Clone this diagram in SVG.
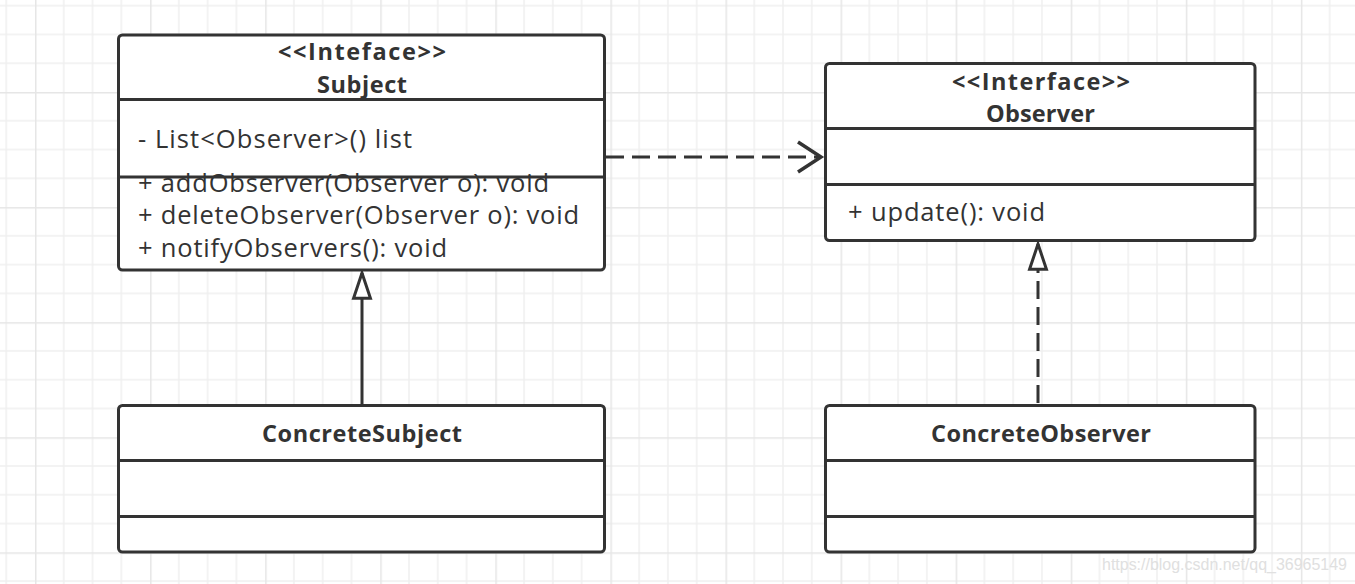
<svg xmlns="http://www.w3.org/2000/svg" width="1355" height="584" viewBox="0 0 1355 584">
<defs>
<pattern id="grid" x="35" y="92" width="115.08" height="115.08" patternUnits="userSpaceOnUse">
<path d="M28.77 0V115.08M57.54 0V115.08M86.31 0V115.08M0 28.77H115.08M0 57.54H115.08M0 86.31H115.08" stroke="#efefef" stroke-width="1.5" fill="none"/>
<path d="M0.75 0V115.08M0 0.75H115.08" stroke="#e6e6e6" stroke-width="1.5" fill="none"/>
</pattern>
<marker id="open" markerUnits="userSpaceOnUse" markerWidth="30" markerHeight="40" refX="24" refY="16" orient="auto" viewBox="0 0 30 32">
<path d="M1 1 L24 16 L1 31" fill="none" stroke="#333" stroke-width="3.5"/>
</marker>
<marker id="tri" markerUnits="userSpaceOnUse" markerWidth="30" markerHeight="30" refX="29" refY="11" orient="auto" viewBox="0 0 32 22">
<path d="M2 2 L29 11 L2 20 Z" fill="#fff" stroke="#333" stroke-width="3.2" stroke-linejoin="miter"/>
</marker>
</defs>
<style>
.box{fill:#fff;stroke:#333;stroke-width:3}
.div{stroke:#333;stroke-width:3;fill:none}
.t{font-family:"Open Sans","Noto Sans","Liberation Sans",sans-serif;fill:#333}
.r{font-size:25.5px}
.b{font-size:23.5px;font-weight:bold;text-anchor:middle}
.ln{stroke:#333;stroke-width:3;fill:none}
.dash{stroke-dasharray:18 8}
.wm{font-family:"Liberation Sans",Arial,sans-serif;font-size:16px;fill:#e0e0e0}
</style>
<rect width="1355" height="584" fill="#fff"/>
<rect width="1355" height="584" fill="url(#grid)"/>

<g id="connectors">
<path class="ln dash" d="M606 157 H821" marker-end="url(#open)"/>
<path class="ln" d="M362 404 V273" marker-end="url(#tri)"/>
<path class="ln dash" d="M1038 403 V244" marker-end="url(#tri)"/>
</g>

<g id="subject">
<rect class="box" x="118.5" y="35" width="486" height="235" rx="4"/>
<path class="div" d="M118.5 99.5 H604.5"/>
<text class="t b" x="362" y="60" textLength="168" lengthAdjust="spacing">&lt;&lt;Inteface&gt;&gt;</text>
<text class="t b" x="362" y="93" textLength="90" lengthAdjust="spacing">Subject</text>
<text class="t r" x="138" y="148" textLength="274" lengthAdjust="spacing">- List&lt;Observer&gt;() list</text>
<text class="t r" x="138" y="192" textLength="411" lengthAdjust="spacing">+ addObserver(Observer o): void</text>
<text class="t r" x="138" y="224" textLength="441" lengthAdjust="spacing">+ deleteObserver(Observer o): void</text>
<text class="t r" x="138" y="257" textLength="309" lengthAdjust="spacing">+ notifyObservers(): void</text>
<path class="div" d="M118.5 177 H604.5"/>
</g>

<g id="observer">
<rect class="box" x="825.5" y="63.5" width="429.5" height="177" rx="4"/>
<path class="div" d="M825.5 128.5 H1255 M825.5 184.5 H1255"/>
<text class="t b" x="1041" y="90" textLength="178" lengthAdjust="spacing">&lt;&lt;Interface&gt;&gt;</text>
<text class="t b" x="1040.5" y="122" textLength="109" lengthAdjust="spacing">Observer</text>
<text class="t r" x="848" y="221" textLength="197" lengthAdjust="spacing">+ update(): void</text>
</g>

<g id="concreteSubject">
<rect class="box" x="118.5" y="405.5" width="486" height="146.5" rx="4"/>
<path class="div" d="M118.5 460.5 H604.5 M118.5 516.5 H604.5"/>
<text class="t b" x="362" y="442" textLength="200" lengthAdjust="spacing">ConcreteSubject</text>
</g>

<g id="concreteObserver">
<rect class="box" x="825.5" y="405.5" width="429.5" height="146.5" rx="4"/>
<path class="div" d="M825.5 460.5 H1255 M825.5 516.5 H1255"/>
<text class="t b" x="1041" y="442" textLength="220" lengthAdjust="spacing">ConcreteObserver</text>
</g>

<text class="wm" x="1102" y="570" textLength="245" lengthAdjust="spacingAndGlyphs">https://blog.csdn.net/qq_36965149</text>
</svg>
